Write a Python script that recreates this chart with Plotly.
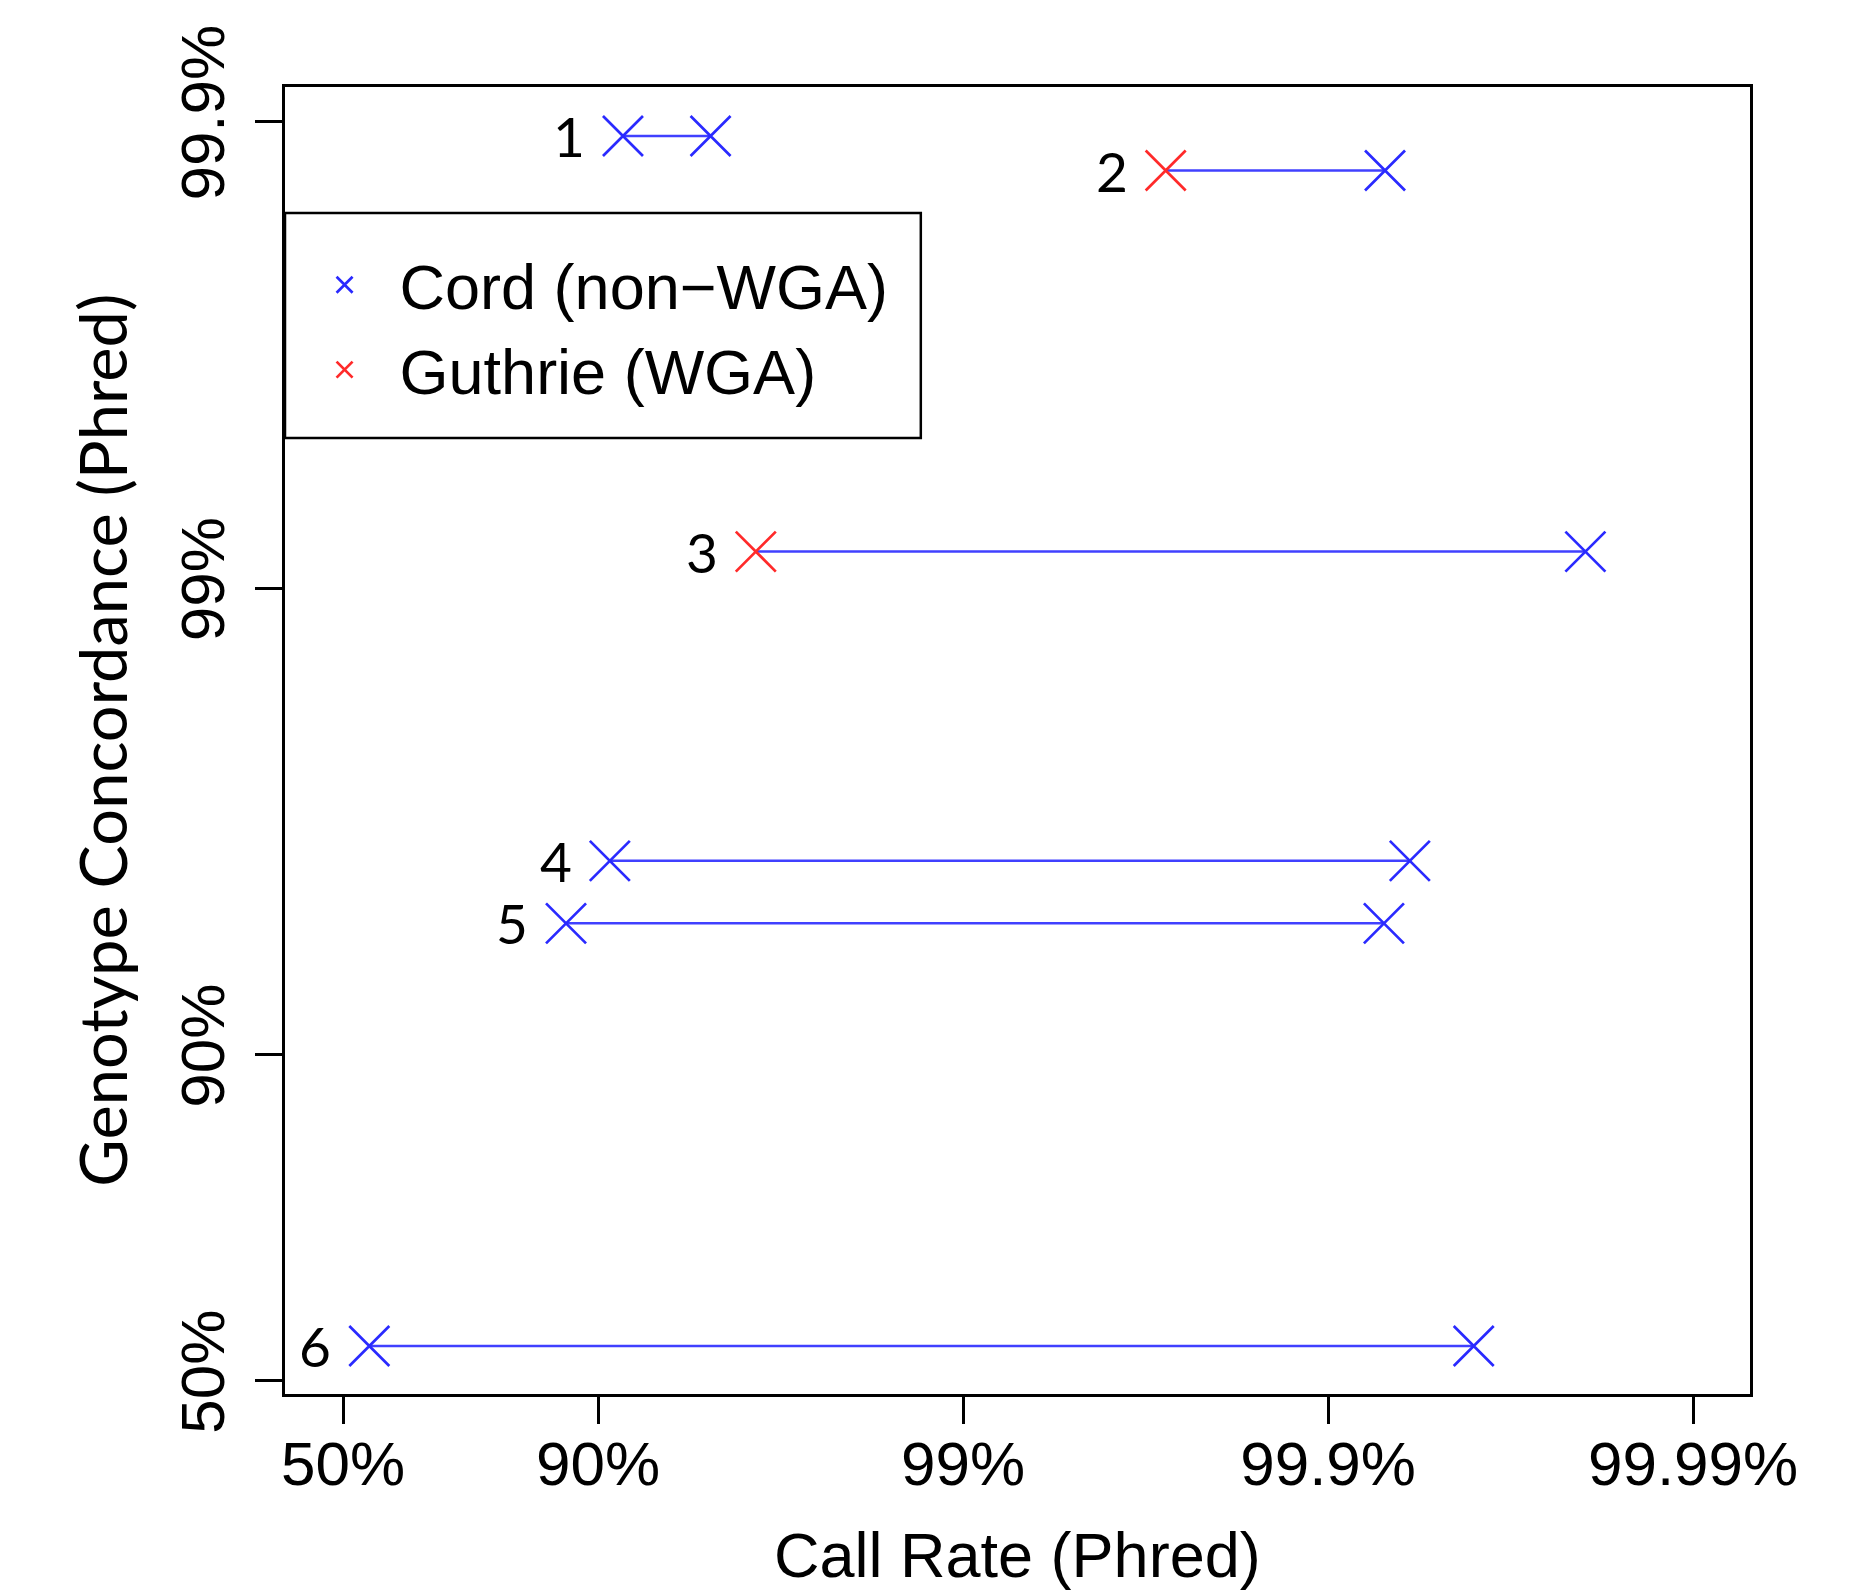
import plotly.graph_objects as go
import math

# ---- data (Phred-scaled values) ----
samples = ["1", "2", "3", "4", "5", "6"]
concordance_phred = [29.70, 28.96, 20.79, 14.16, 12.82, 3.76]
callrate_left = [10.68, 25.55, 14.32, 10.32, 9.12, 3.73]
callrate_right = [13.08, 31.56, 37.05, 32.24, 31.53, 33.99]
type_left = ["Cord", "Guthrie", "Guthrie", "Cord", "Cord", "Cord"]
type_right = ["Cord", "Cord", "Cord", "Cord", "Cord", "Cord"]

x_tick_labels = ["50%", "90%", "99%", "99.9%", "99.99%"]
y_tick_labels = ["50%", "90%", "99%", "99.9%"]

def phred(lbl):
    p = float(lbl.rstrip("%")) / 100.0
    return -10 * math.log10(1 - p)

BLUE = "#2a2aff"
LINE_BLUE = "#4040ff"
RED = "#ff2a2a"
ARIAL = "Liberation Sans, Arial, sans-serif"
HUMAN = "Lato, Open Sans, sans-serif"

fig = go.Figure()

# connecting lines
lx, ly = [], []
for a, b, y in zip(callrate_left, callrate_right, concordance_phred):
    lx += [a, b, None]
    ly += [y, y, None]
fig.add_trace(go.Scatter(x=lx, y=ly, mode="lines",
                         line=dict(color=LINE_BLUE, width=2.5),
                         showlegend=False, hoverinfo="skip"))

# points by type
names = {"Cord": "\u00a0\u00a0Cord (non\u2212WGA)", "Guthrie": "\u00a0\u00a0Guthrie (WGA)"}
colors = {"Cord": BLUE, "Guthrie": RED}
for t in ["Cord", "Guthrie"]:
    xs, ys = [], []
    for a, b, y, ta, tb in zip(callrate_left, callrate_right, concordance_phred, type_left, type_right):
        if ta == t:
            xs.append(a); ys.append(y)
        if tb == t:
            xs.append(b); ys.append(y)
    fig.add_trace(go.Scatter(x=xs, y=ys, mode="markers", name=names[t],
                             marker=dict(symbol="x-thin", size=40,
                                         line=dict(color=colors[t], width=2.7),
                                         color=colors[t])))

# sample number labels
for s, a, y in zip(samples, callrate_left, concordance_phred):
    fig.add_annotation(x=a, y=y, text=s, showarrow=False, xanchor="right",
                       yanchor="middle", xshift=-36,
                       font=dict(family=HUMAN, size=55, color="black"))

# axis titles
fig.add_annotation(xref="paper", yref="paper", x=0.5, y=-0.123,
                   text="Call Rate (Phred)", showarrow=False,
                   xanchor="center", yanchor="middle",
                   font=dict(family=ARIAL, size=63, color="black"))
fig.add_annotation(xref="paper", yref="paper", x=-0.1255, y=0.5,
                   text="Genotype Concordance (Phred)", showarrow=False,
                   textangle=-90, xanchor="center", yanchor="middle",
                   font=dict(family=HUMAN, size=65, color="black"))

# legend box
fig.add_shape(type="rect", xref="paper", yref="paper",
              x0=0, x1=0.434, y0=0.7314, y1=0.9036,
              line=dict(color="black", width=2.5), fillcolor="white", layer="below")

axis_common = dict(showgrid=False, zeroline=False, showline=True, mirror=True,
                   linecolor="black", linewidth=2.5, ticks="outside",
                   ticklen=27, tickwidth=2.5, tickcolor="black",
                   tickfont=dict(family=ARIAL, size=62, color="black"))

fig.update_xaxes(range=[1.42, 41.56],
                 tickvals=[phred(l) for l in x_tick_labels], ticktext=x_tick_labels,
                 ticklabelstandoff=-13, **axis_common)
fig.update_yaxes(range=[2.73, 30.75],
                 tickvals=[phred(l) for l in y_tick_labels], ticktext=y_tick_labels,
                 tickangle=-90, ticklabelstandoff=6, **axis_common)

fig.update_layout(
    width=1849, height=1586,
    margin=dict(l=277, r=107, t=79, b=200),
    plot_bgcolor="white", paper_bgcolor="white",
    legend=dict(x=0.027, y=0.885, xanchor="left", yanchor="top",
                bgcolor="rgba(0,0,0,0)", borderwidth=0,
                font=dict(family=ARIAL, size=63, color="black"),
                itemsizing="trace"),
)

fig.write_html("out.html")
